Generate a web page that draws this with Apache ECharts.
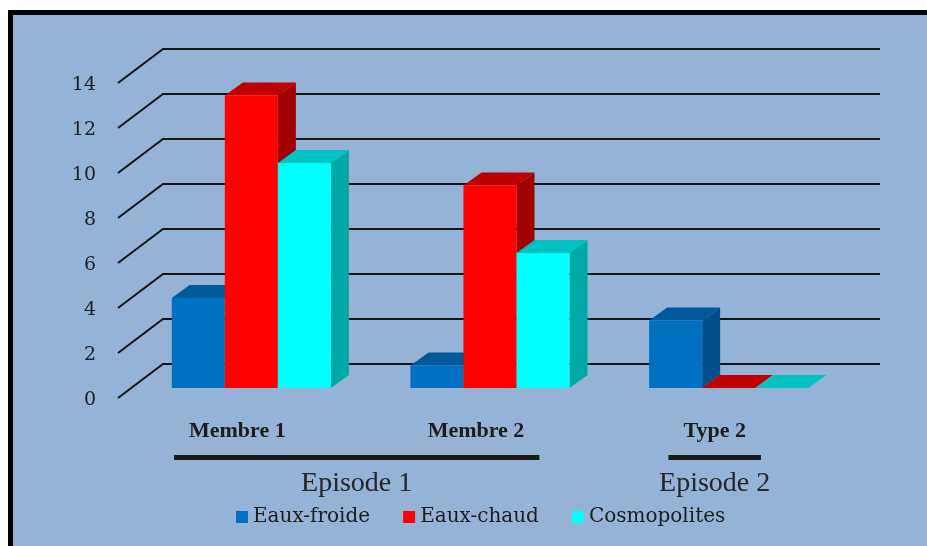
<!DOCTYPE html>
<html>
<head>
<meta charset="utf-8">
<script src="https://cdn.jsdelivr.net/npm/echarts@6/dist/echarts.min.js"></script>
<style>
  html, body { margin: 0; padding: 0; background: #ffffff; }
  #frame {
    position: absolute; left: 8px; top: 10px; width: 919px; height: 536px;
    box-sizing: border-box; background: #95b3d7;
    border-top: 5px solid #000; border-left: 5px solid #000;
  }
  #chart { position: absolute; left: 0; top: 0; width: 927px; height: 546px; }
</style>
</head>
<body>
<div id="frame"></div>
<div id="chart"></div>
<script>
// Categories and values
const categories = ['Membre 1', 'Membre 2', 'Type 2'];
const seriesNames = ['Eaux-froide', 'Eaux-chaud', 'Cosmopolites'];
const eauxFroide = [4, 1, 3];
const eauxChaud = [13, 9, 0];
const cosmopolites = [10, 6, 0];
const yTicks = [0, 2, 4, 6, 8, 10, 12, 14];
const tickLabels = ['0', '2', '4', '6', '8', '10', '12', '14'];
// Episode groups: label, first category index, last category index
const episodeNames = ['Episode 1', 'Episode 2'];
const episodeFirst = [0, 2];
const episodeLast = [1, 2];

const seriesValues = [eauxFroide, eauxChaud, cosmopolites];
const faceColors = [
  { front: '#0070c0', top: '#00599b', side: '#004f8a' },
  { front: '#ff0000', top: '#c00000', side: '#a00000' },
  { front: '#00ffff', top: '#00c2c2', side: '#00a8a8' }
];

// 3D offsets of the box (depth) and of the floor/wall relative to the bar plane
const DEPTH_X = 18, DEPTH_Y = 13;
const FRONT_DX = -14, FRONT_DY = 10;
const BACK_DX = 31, BACK_DY = -24;

const catFont = 'bold 22px "Liberation Serif"';
const measureCtx = document.createElement('canvas').getContext('2d');
function textWidth(str, font) {
  measureCtx.font = font;
  return measureCtx.measureText(str).width;
}

const chart = echarts.init(document.getElementById('chart'), null, { renderer: 'canvas' });

function barRenderer(si) {
  return function (params, api) {
    const cat = api.value(0);
    const val = api.value(1);
    const base = api.coord([cat, 0]);
    const top = api.coord([cat, val]);
    const band = api.size([1, 0])[0];
    const w = band / 4.5;
    const x0 = base[0] - 1.5 * w + si * w;
    const yb = base[1], yt = top[1];
    const c = faceColors[si];
    return {
      type: 'group',
      children: [
        { type: 'polygon', shape: { points: [[x0 + w, yt], [x0 + w + DEPTH_X, yt - DEPTH_Y], [x0 + w + DEPTH_X, yb - DEPTH_Y], [x0 + w, yb]] }, style: { fill: c.side } },
        { type: 'polygon', shape: { points: [[x0, yt], [x0 + w, yt], [x0 + w + DEPTH_X, yt - DEPTH_Y], [x0 + DEPTH_X, yt - DEPTH_Y]] }, style: { fill: c.top } },
        { type: 'rect', shape: { x: x0, y: yt, width: w, height: yb - yt }, style: { fill: c.front } }
      ]
    };
  };
}

const barSeries = seriesNames.map(function (name, si) {
  return {
    name: name,
    type: 'custom',
    z: 3,
    clip: false,
    itemStyle: { color: faceColors[si].front },
    renderItem: barRenderer(si),
    data: categories.map(function (c, i) { return [i, seriesValues[si][i]]; })
  };
});

// Floor diagonals, back wall gridlines and value labels
const wallSeries = {
  type: 'custom',
  z: 1,
  clip: false,
  silent: true,
  renderItem: function (params, api) {
    const v = api.value(1);
    const cs = params.coordSys;
    const y = api.coord([0, v])[1];
    const xl = cs.x;
    const xr = cs.x + cs.width;
    const fx = xl + FRONT_DX, fy = y + FRONT_DY;
    const bx = xl + BACK_DX, by = y + BACK_DY;
    return {
      type: 'group',
      children: [
        { type: 'polyline', shape: { points: [[fx, fy], [bx, by], [xr + BACK_DX + 1, by]] }, style: { stroke: '#141414', lineWidth: 2, fill: null } },
        { type: 'text', style: { text: tickLabels[params.dataIndex], x: fx - 22, y: fy + 2.5, align: 'right', verticalAlign: 'middle', font: '19px "DejaVu Serif"', fill: '#1e1e1e' } }
      ]
    };
  },
  data: yTicks.map(function (t) { return [0, t]; })
};

// Episode brackets under the category labels
const episodeSeries = {
  type: 'custom',
  z: 1,
  clip: false,
  silent: true,
  renderItem: function (params, api) {
    const a = api.value(0), b = api.value(1);
    const pa = api.coord([a, 0]);
    const pb = api.coord([b, 0]);
    const xa = pa[0] + FRONT_DX - textWidth(categories[a], catFont) / 2 - 15;
    const xb = pb[0] + FRONT_DX + textWidth(categories[b], catFont) / 2 + 15;
    const y = pa[1];
    return {
      type: 'group',
      children: [
        { type: 'rect', shape: { x: xa, y: y + 67, width: xb - xa, height: 5 }, style: { fill: '#1a1a1a' } },
        { type: 'text', style: { text: episodeNames[params.dataIndex], x: (xa + xb) / 2, y: y + 96, align: 'center', verticalAlign: 'middle', font: '28px "Liberation Serif"', fill: '#262626' } }
      ]
    };
  },
  data: episodeNames.map(function (n, i) { return [episodeFirst[i], episodeLast[i]]; })
};

chart.setOption({
  backgroundColor: 'transparent',
  animation: false,
  color: faceColors.map(function (c) { return c.front; }),
  grid: { left: 132, right: 79, top: 73, bottom: 158, containLabel: false },
  xAxis: {
    type: 'category',
    data: categories,
    boundaryGap: true,
    axisLine: { show: false },
    axisTick: { show: false },
    splitLine: { show: false },
    axisLabel: {
      margin: 32,
      padding: [0, 28, 0, 0],
      fontFamily: 'Liberation Serif',
      fontWeight: 'bold',
      fontSize: 22,
      color: '#1c1c1c'
    }
  },
  yAxis: {
    type: 'value',
    min: 0,
    max: 14,
    interval: 2,
    show: false
  },
  legend: {
    data: seriesNames,
    left: 231,
    top: 502,
    icon: 'rect',
    itemWidth: 12,
    itemHeight: 12,
    itemGap: 33,
    selectedMode: false,
    textStyle: { fontFamily: 'DejaVu Serif', fontSize: 20, color: '#1c1c1c' }
  },
  series: [wallSeries, episodeSeries].concat(barSeries)
});
</script>
</body>
</html>
